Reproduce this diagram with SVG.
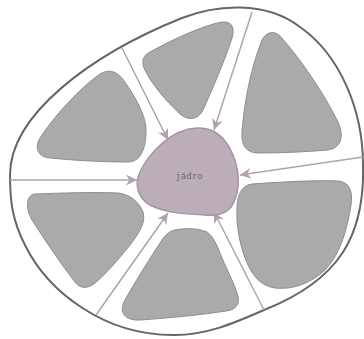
<svg xmlns="http://www.w3.org/2000/svg" width="364" height="339" viewBox="0 0 364 339">
<style>
.outer{fill:#fff;stroke:#666;stroke-width:2}
.cell{fill:#aaaaaa;stroke:#8e8e8e;stroke-width:1}
.nuc{fill:#bcaeb9;stroke:#a593a3;stroke-width:1.5}
.conn{stroke:#b3a1b1;stroke-width:1.5;fill:none;marker-end:url(#arr)}
.lbl{font-family:"DejaVu Sans Mono","Liberation Mono",monospace;font-size:9px;fill:#6a6a6a;text-anchor:middle}
</style>
<defs>
<marker id="arr" viewBox="0 0 10 10" refX="10" refY="5" markerUnits="userSpaceOnUse" markerWidth="11" markerHeight="11" orient="auto">
<path d="M0,0 L10,5 L0,10 L3,5 Z" fill="#b3a1b1"/>
</marker>
</defs>
<g id="cell-outer">
<path class="outer" d="M 10,175 C 10,115 90,55 182,18 C 215,5 265,0 300,27 C 340,55 363,110 363,165 C 365,235 340,280 264,310 C 230,325 205,335 175,335 C 105,336 48,292 25,245 C 12,220 10,200 10,175 Z"/>
</g>
<g id="cell1"><path class="cell" d="M 100,74 C 110,68 118,72 125,82 C 135,97 146,115 146,130 C 146,150 140,162 128,162 C 100,162 70,160 50,158 C 38,157 34,148 40,138 C 55,115 80,88 100,74 Z"/></g>
<g id="cell2"><path class="cell" d="M 150,52 C 175,38 205,25 222,22 C 232,21 235,28 232,38 C 225,60 212,90 203,110 C 198,120 188,121 180,114 C 165,100 150,82 144,68 C 141,60 144,55 150,52 Z"/></g>
<g id="cell3"><path class="cell" d="M 262,40 C 266,32 274,30 280,36 C 300,58 325,95 338,122 C 344,135 342,148 328,150 C 305,152 280,153 258,153 C 246,153 241,145 242,132 C 244,105 250,70 262,40 Z"/></g>
<g id="cell4"><path class="cell" d="M 35,194 C 60,193 95,192 118,193 C 130,194 140,203 143,212 C 146,222 140,232 130,245 C 118,260 105,275 95,283 C 88,289 80,289 75,282 C 60,263 45,240 32,220 C 25,208 26,195 35,194 Z"/></g>
<g id="cell5"><path class="cell" d="M 175,230 C 185,228 198,228 207,232 C 213,236 217,245 222,258 C 228,272 235,285 238,296 C 240,305 235,310 226,311 C 200,315 170,318 140,320 C 125,321 118,312 125,300 C 135,282 150,258 162,240 C 166,234 170,231 175,230 Z"/></g>
<g id="cell6"><path class="cell" d="M 252,184 C 280,182 315,180 338,181 C 350,182 353,192 351,205 C 347,230 340,255 325,270 C 312,282 295,290 275,288 C 262,286 254,278 248,265 C 240,248 236,225 237,208 C 237,195 242,185 252,184 Z"/></g>
<g id="connectors">
<path class="conn" d="M 122,48 L 168,140"/>
<path class="conn" d="M 252,12 L 214,130"/>
<path class="conn" d="M 363,157 L 240,175"/>
<path class="conn" d="M 10,180 L 137,180"/>
<path class="conn" d="M 96,315 L 168,213"/>
<path class="conn" d="M 264,310 L 214,212"/>
</g>
<g id="jadro">
<path class="nuc" d="M 197,128 C 215,127 226,138 233,155 C 240,172 240,190 233,204 C 228,214 218,216 205,215 C 185,214 165,213 150,205 C 138,198 134,185 140,172 C 148,155 170,129 197,128 Z"/>
<text class="lbl" x="189" y="179">jádro</text>
</g>
</svg>
